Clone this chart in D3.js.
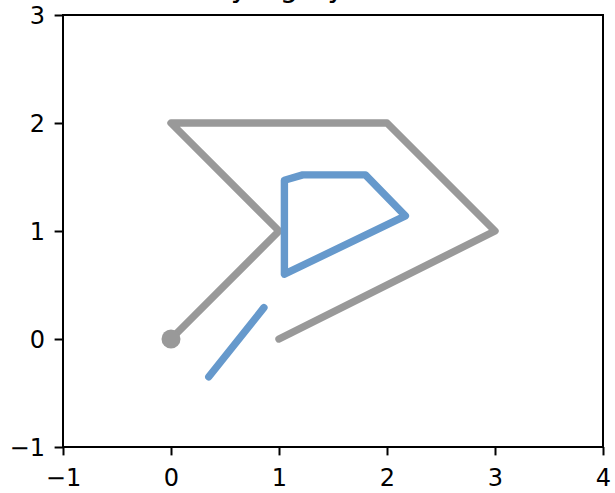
<!DOCTYPE html>
<html>
<head>
<meta charset="utf-8">
<script src="https://cdn.jsdelivr.net/npm/d3@7"></script>
<style>
  html, body { margin: 0; padding: 0; background: #fff; }
  svg { display: block; }
  text { font-family: "DejaVu Sans", sans-serif; fill: #000; }
</style>
</head>
<body>
<svg id="chart" width="615" height="493"></svg>
<script>
// ---- data ----
const titleText = "The key's gray and blue ink";
const xTicks = [-1, 0, 1, 2, 3, 4];
const yTicks = [-1, 0, 1, 2, 3];
const xDomain = [-1, 4];
const yDomain = [-1, 3];
// gray path (starts with a dot marker)
const grayX = [0, 1, 0, 2, 3, 1];
const grayY = [0, 1, 2, 2, 1, 0];
// blue open segment
const blueSegX = [0.35, 0.86];
const blueSegY = [-0.35, 0.29];
// blue closed polygon
const bluePolyX = [1.05, 1.05, 1.22, 1.80, 2.17];
const bluePolyY = [0.60, 1.47, 1.52, 1.52, 1.14];

// ---- layout ----
const svg = d3.select("#chart");
const L = 63, R = 603, T = 15, B = 447;
const x = d3.scaleLinear().domain(xDomain).range([L, R]);
const y = d3.scaleLinear().domain(yDomain).range([B, T]);

const gray = "#999999", blue = "#6699cc";
const lw = 7.4;

// title (partly above the canvas, as in the reference)
svg.append("text")
  .attr("x", (L + R) / 2).attr("y", -3)
  .attr("text-anchor", "middle")
  .style("font-size", "28.8px")
  .text(titleText);

const plot = svg.append("g");
const line = d3.line().x(d => x(d[0])).y(d => y(d[1]));

const grayPts = grayX.map((v, i) => [v, grayY[i]]);
plot.append("path")
  .attr("d", line(grayPts))
  .attr("fill", "none").attr("stroke", gray)
  .attr("stroke-width", lw).attr("stroke-linejoin", "round").attr("stroke-linecap", "round");
plot.append("circle")
  .attr("cx", x(grayX[0])).attr("cy", y(grayY[0])).attr("r", 9.5)
  .attr("fill", gray);

const segPts = blueSegX.map((v, i) => [v, blueSegY[i]]);
plot.append("path")
  .attr("d", line(segPts))
  .attr("fill", "none").attr("stroke", blue)
  .attr("stroke-width", lw).attr("stroke-linecap", "round");

const polyPts = bluePolyX.map((v, i) => [v, bluePolyY[i]]);
plot.append("path")
  .attr("d", line(polyPts) + "Z")
  .attr("fill", "none").attr("stroke", blue)
  .attr("stroke-width", lw).attr("stroke-linejoin", "round");

// axes
const axStyle = g => {
  g.selectAll(".domain").remove();
  g.selectAll(".tick line").attr("stroke", "#000").attr("stroke-width", 2);
  g.selectAll(".tick text").style("font-size", "24px").attr("fill", "#000")
    .style("font-family", "'DejaVu Sans', sans-serif");
};
const fmt = d => d < 0 ? "\u2212" + Math.abs(d) : String(d);

svg.append("g").attr("transform", `translate(0,${B})`)
  .call(d3.axisBottom(x).tickValues(xTicks).tickFormat(fmt).tickSize(8.4).tickPadding(8.4))
  .call(axStyle)
  .call(g => g.selectAll(".tick text").attr("dy", null).attr("y", 39));

svg.append("g").attr("transform", `translate(${L},0)`)
  .call(d3.axisLeft(y).tickValues(yTicks).tickFormat(fmt).tickSize(8.4).tickPadding(8.4))
  .call(axStyle)
  .call(g => g.selectAll(".tick text").attr("dy", null).attr("y", 8.8).attr("x", -18));

// frame
svg.append("rect")
  .attr("x", L).attr("y", T).attr("width", R - L).attr("height", B - T)
  .attr("fill", "none").attr("stroke", "#000").attr("stroke-width", 2);
</script>
</body>
</html>
